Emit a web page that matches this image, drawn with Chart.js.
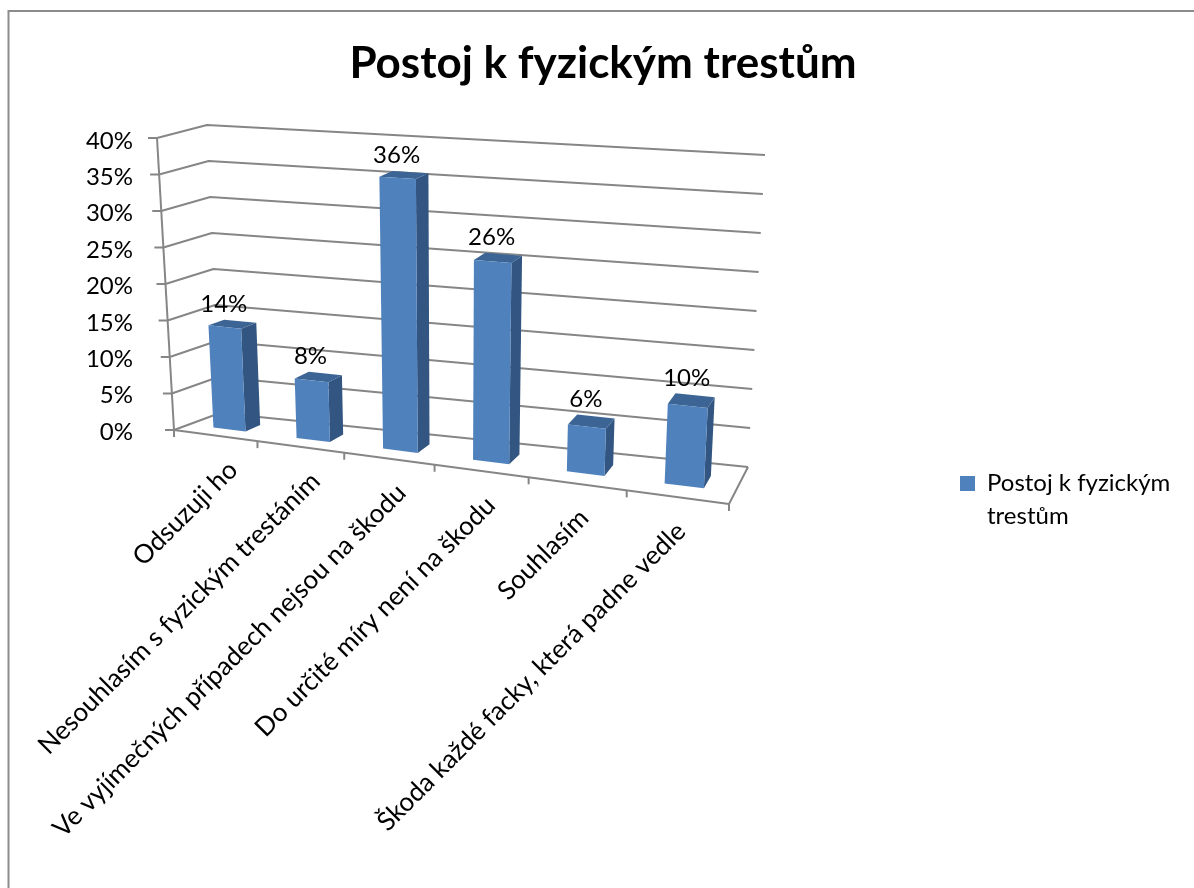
<!DOCTYPE html>
<html><head><meta charset="utf-8">
<style>html,body{margin:0;padding:0;background:#fff;overflow:hidden}canvas{display:block}</style>
<script src="https://cdn.jsdelivr.net/npm/chart.js@4"></script>
</head><body><canvas id="c" width="1194" height="888" style="width:1194px;height:888px"></canvas>
<script>
const chartTitle = 'Postoj k fyzickým trestům';
const seriesName = 'Postoj k fyzickým trestům';
const legendLines = ['Postoj k fyzickým', 'trestům'];
const categories = ['Odsuzuji ho','Nesouhlasím s fyzickým trestáním','Ve vyjímečných případech nejsou na škodu','Do určité míry není na škodu','Souhlasím','Škoda každé facky, která padne vedle'];
const values = [14, 8, 36, 26, 6, 10];

const FONT = 'Lato';
const FRONT='#4f81bd', SIDE='#325681', TOP='#3c6595', GRID='#868686';
// corners of the 3D box: [front-left, front-right, back-left, back-right] for bottom and top
const box = {
  b:[[174,430],[729,504],[220,413],[748,467]],
  t:[[157,138],[746,176],[207,125],[765,155]]
};
const persp = 1.13, d0 = 0.32, d1 = 0.66;
const lerp=(a,b,t)=>a+(b-a)*t;
function P(u,v,d){
  const f=u/(u+persp*(1-u));
  const q=(arr)=>{
    const fr=[lerp(arr[0][0],arr[1][0],f),lerp(arr[0][1],arr[1][1],f)];
    const bk=[lerp(arr[2][0],arr[3][0],f),lerp(arr[2][1],arr[3][1],f)];
    return [lerp(fr[0],bk[0],d),lerp(fr[1],bk[1],d)];
  };
  const a=q(box.b),c=q(box.t);
  return [lerp(a[0],c[0],v),lerp(a[1],c[1],v)];
}
function poly(ctx,pts,fill){ctx.beginPath();pts.forEach((p,i)=>i?ctx.lineTo(p[0],p[1]):ctx.moveTo(p[0],p[1]));ctx.closePath();ctx.fillStyle=fill;ctx.fill();}
function line(ctx,pts){ctx.beginPath();pts.forEach((p,i)=>i?ctx.lineTo(p[0],p[1]):ctx.moveTo(p[0],p[1]));ctx.stroke();}

let current=null;
const uOf=px=>(px-current.scales.x.left)/current.scales.x.width;
const vOf=py=>(current.scales.y.bottom-py)/(current.scales.y.bottom-current.scales.y.top);

Chart.BarElement.prototype.draw=function(ctx){
  const u0=uOf(this.x-this.width/2),u1=uOf(this.x+this.width/2),v=vOf(this.y);
  ctx.save();
  poly(ctx,[P(u1,0,d0),P(u1,0,d1),P(u1,v,d1),P(u1,v,d0)],SIDE);
  poly(ctx,[P(u0,v,d0),P(u1,v,d0),P(u1,v,d1),P(u0,v,d1)],TOP);
  poly(ctx,[P(u0,0,d0),P(u1,0,d0),P(u1,v,d0),P(u0,v,d0)],FRONT);
  ctx.restore();
};

const scene={
  id:'scene',
  afterLayout(chart){
    current=chart;
    const l=chart.legend; const pad=l.options.labels.padding;
    l.left=960-pad; l.right=1190; l.top=471.5-pad; l.bottom=560;
    const t=chart.titleBlock; t.left=12; t.right=1194; t.width=1182;
  },
  beforeDraw(chart){
    current=chart;
    const ctx=chart.ctx;
    ctx.save();ctx.strokeStyle='#8c8c8c';ctx.lineWidth=2;
    ctx.strokeRect(8.5,11,1400,1000);ctx.restore();
    const items=chart.scales.x.getLabelItems();
    if(!items._moved){
      items.forEach((it,i)=>{
        const p=P((i+0.5)/categories.length,0,0);
        it.options.translation=[p[0]+8-0.03*(p[0]-174),p[1]+19];
      });
      items._moved=true;
    }
  },
  beforeDatasetsDraw(chart){
    const ctx=chart.ctx,y=chart.scales.y;
    ctx.save();ctx.strokeStyle=GRID;ctx.lineWidth=2;ctx.lineJoin='round';
    y.ticks.forEach(t=>{
      const v=vOf(y.getPixelForValue(t.value));
      const a=P(0,v,0);
      line(ctx,[[a[0]-9,a[1]],a,P(0,v,1),P(1,v,1)]);
    });
    line(ctx,[P(0,0,0),P(0,1,0)]);
    line(ctx,[P(0,0,0),P(1,0,0),P(1,0,1)]);
    for(let i=0;i<=categories.length;i++){
      const p=P(i/categories.length,0,0);
      line(ctx,[p,[p[0],p[1]+7]]);
    }
    ctx.restore();
  },
  afterDatasetsDraw(chart){
    const ctx=chart.ctx,meta=chart.getDatasetMeta(0);
    ctx.save();ctx.fillStyle='#000';ctx.font='24px '+FONT;ctx.textAlign='center';ctx.textBaseline='middle';
    meta.data.forEach((el,i)=>{
      const uc=uOf(el.x),v=vOf(el.y);
      const f=P(uc,v,d0),b=P(uc,v,d1);
      ctx.fillText(values[i]+'%',f[0]-1,b[1]-17);
    });
    ctx.restore();
  }
};

new Chart(document.getElementById('c'),{
  type:'bar',
  data:{labels:categories,datasets:[{label:seriesName,data:values,backgroundColor:FRONT,categoryPercentage:1,barPercentage:0.39,clip:false}]},
  options:{
    responsive:false,animation:false,devicePixelRatio:1,
    layout:{padding:{left:0,right:465,top:0,bottom:0}},
    plugins:{
      tooltip:{enabled:false},
      title:{display:true,text:chartTitle,color:'#000',font:{family:FONT,size:44,weight:'bold',lineHeight:1.2},padding:{top:37,bottom:51.2}},
      legend:{display:true,position:'chartArea',align:'start',
        labels:{boxWidth:15,boxHeight:15,padding:4,color:'#000',font:{family:FONT,size:24,lineHeight:1.375},
          generateLabels(c){return [{text:legendLines,fillStyle:FRONT,strokeStyle:FRONT,lineWidth:0,datasetIndex:0,hidden:false}];}}}
    },
    scales:{
      x:{grid:{display:false,drawTicks:false},border:{display:false},
        afterFit(s){s.height=456;s.paddingLeft=0;s.paddingRight=0;},
        ticks:{autoSkip:false,maxRotation:45,minRotation:45,color:'#000',font:{family:FONT,size:26},padding:0}},
      y:{min:0,max:40,grid:{display:false,drawTicks:false},border:{display:false},
        afterFit(s){s.width=174;},
        ticks:{stepSize:5,color:'#000',padding:41,font:{family:FONT,size:24},callback:v=>v+'%'}}
    }
  },
  plugins:[scene]
});
</script></body></html>
